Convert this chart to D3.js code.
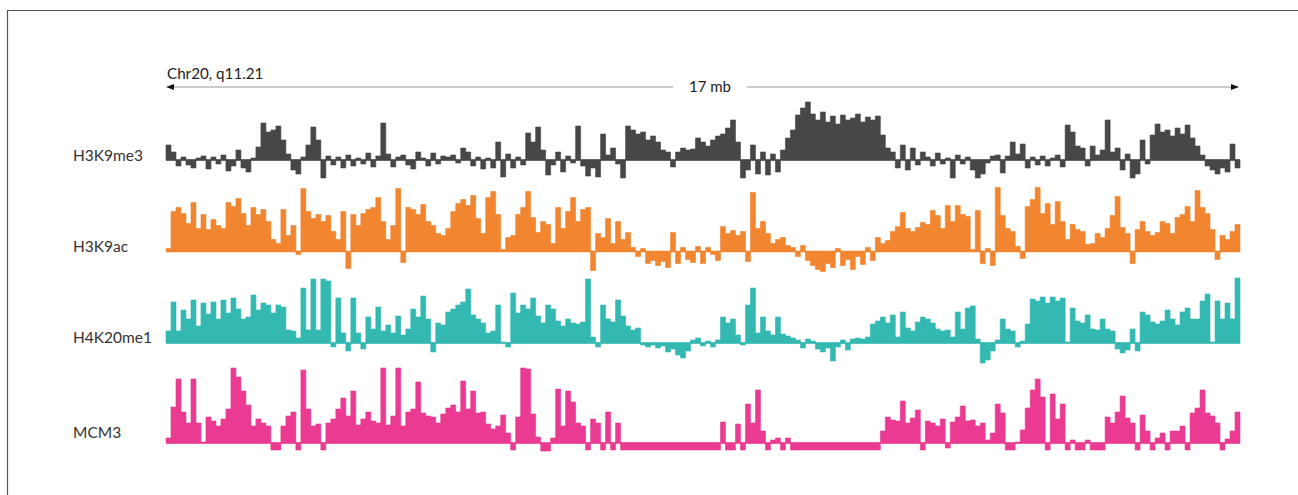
<!DOCTYPE html>
<html><head><meta charset="utf-8">
<script src="https://cdn.jsdelivr.net/npm/d3@7"></script>
<style>html,body{margin:0;padding:0;background:#fff;} svg{display:block}</style>
</head><body>
<svg id="chart" width="1298" height="495"></svg>
<script>
// ---------- DATA ----------
const trackNames = ["H3K9me3", "H3K9ac", "H4K20me1", "MCM3"];
const regionLabel = "Chr20, q11.21";
const spanLabel = "17 mb";

const h3k9me3 = [15,8,-6,3,-5,-8,2,4,-9,3,-4,5,-11,-6,10,-8,-12,2,
13,37,28,30,34,20, 6,-10,-14,3, 15,33,20,-18, 4,-5,3,-8,5,-6,2,-4,7,-7,4, 37,
6,-7,3,5,-5,-9,8,2,-6,7,-4,4,3,
5,-3,12,8, -6,3,-9,2,-8, 18,-17, 6,-8,3,-5, 27,18,33,10, -15,-5,8,-12, 4,-3, 34,
-6,-16,-8,-17, 26,5,12, -4,-18, 34,30,26, 28,20,24,18, 10,8,-7, 8,12,10,11,
22,18,14,20, 24,26,32,40,18, -18,-10,15, -14,8,-15,6,-12, 10,22, 30,45,52,58,
46,40,48,38,44,36,45,40,
42,46,38,43,40,44, 25, 12,8,-8, 15,-10,12, -5,8,3,-6,7,-4,2, -18, 5,-4,3,
-10,-18,-14, -3,4,5, -13, 4,18,6,16, -8,3,-5,4,-6,2,5,-7, 35,28,14, 12,-6,14,5,
10,40,8, 12,-10,6,-18,-14,20, -4,25,36,28,30,24,32,26,35,22,14, 5,-6,-10,-14,-8,-12,16,-8];

const h3k9ac = [3,40,44,38,28,49,23,37,22,32,
26,23,49,45,53,38,26,44,37,42,
30,12,8,42,16,26,-3,63,40,33,
37,30,36,20,12,40,-17,37,26,38,
42,44,54,30,12,26,63,-11,44,42,
37,47,30,26,18,16,23,40,48,52,
46,56,33,18,54,60,37,2,14,16,
37,44,60,34,19,30,27,8,44,23,
40,54,30,42,44,-19,18,14,33,8,
30,12,19,4,-5,3,-12,-9,-14,-10,
-16,19,-12,4,-8,-11,5,-12,4,-3,
-9,25,18,21,16,20,-10,59,23,30,
18,8,12,14,6,4,-5,6,-9,-14,
-18,-20,-12,-16,3,-14,-8,-18,-5,-13,
4,-9,14,8,11,20,25,39,23,20,
24,29,27,41,36,23,46,30,46,37,
35,2,41,-12,3,-14,64,36,23,20,
5,-7,45,52,64,38,48,27,50,30,
12,27,22,20,7,8,18,14,23,36,
55,24,18,-12,22,30,20,16,19,30,
28,18,34,37,45,30,61,44,38,22,
-8,16,12,20,27];

const h4k20me1 = [12,41,12,33,24,43,17,40,29,41,
24,43,30,45,34,24,26,48,33,40,
38,30,38,36,13,12,5,55,13,64,
13,64,62,-4,45,10,-8,45,10,-6,
26,14,36,12,18,10,27,8,14,34,
26,47,24,-9,20,18,31,34,38,41,
54,28,24,20,10,12,38,1,-4,50,
30,38,34,45,27,20,38,34,22,17,
24,20,19,21,64,6,-4,38,24,21,
43,27,17,13,15,-2,-4,-2,-5,-3,
-9,-6,-12,-15,-8,3,5,-3,2,-4,
3,26,20,24,8,-2,38,55,10,26,
12,8,26,9,7,5,3,-5,4,2,
-6,-9,-5,-18,-4,3,-7,4,5,4,
6,19,22,26,20,28,6,31,15,12,
21,26,24,20,14,12,13,6,31,14,
35,37,4,-20,-17,-8,3,24,14,12,
-4,2,19,44,42,46,40,46,42,45,
1,35,22,20,28,14,13,24,14,12,
-6,-10,-7,14,-8,31,28,21,19,22,
33,24,18,31,35,24,24,42,49,1,
42,24,40,24,65];

const mcm3 = [5,36,64,31,20,64,20,1,26,22,
17,24,34,75,66,52,38,17,24,20,
17,-7,-7,17,27,31,-7,73,34,17,
19,-7,20,24,34,45,27,52,18,24,
31,22,20,75,18,27,75,17,31,34,
61,30,27,26,20,29,35,38,31,62,
34,52,30,31,19,14,17,28,10,-7,
26,75,74,29,6,-8,-8,5,54,17,
52,41,20,17,-7,24,20,-7,31,-7,
20,-7,-7,-7,-7,-7,-7,-7,-7,-7,
-7,-7,-7,-7,-7,-7,-7,-7,-7,-7,
-7,21,-7,-7,19,-7,39,20,53,12,
-7,3,5,-7,5,-7,-7,-7,-7,-7,
-7,-7,-7,-7,-7,-7,-7,-7,-7,-7,
-7,-7,-7,12,26,23,22,42,20,25,
33,-7,22,20,17,24,-5,21,26,37,
22,23,17,20,3,10,39,30,-7,-7,
1,13,35,53,64,46,-7,49,24,39,
-7,3,-7,-7,3,-7,-7,-7,26,20,
31,47,25,20,-7,28,12,-7,5,10,
-7,12,12,17,-7,30,35,53,30,27,
20,-7,4,12,31];

const trackValues = [h3k9me3, h3k9ac, h4k20me1, mcm3];

// ---------- STYLE / LAYOUT ----------
const colors = ["#474747", "#f2852f", "#33b9b1", "#ea3a92"];
const baselines = [160, 251.5, 343, 443];
const labelBaselines = [161, 252, 343, 438];
const x0 = 166, x1 = 1240;
const font = "Lato, 'Open Sans', sans-serif";

const svg = d3.select("#chart");

// frame
svg.append("line").attr("x1", 7).attr("x2", 1298).attr("y1", 10.5).attr("y2", 10.5)
  .attr("stroke", "#555").attr("stroke-width", 1.2);
svg.append("line").attr("x1", 7.5).attr("x2", 7.5).attr("y1", 10).attr("y2", 495)
  .attr("stroke", "#555").attr("stroke-width", 1.2);

// region arrow
const arrowY = 87;
svg.append("line").attr("x1", x0 + 4).attr("x2", 673).attr("y1", arrowY).attr("y2", arrowY)
  .attr("stroke", "#9a9a9a").attr("stroke-width", 1);
svg.append("line").attr("x1", 747).attr("x2", x1 - 4).attr("y1", arrowY).attr("y2", arrowY)
  .attr("stroke", "#9a9a9a").attr("stroke-width", 1);
svg.append("path").attr("d", `M${x0},${arrowY} L${x0 + 8},${arrowY - 3} L${x0 + 8},${arrowY + 3} Z`).attr("fill", "#111");
svg.append("path").attr("d", `M${x1 - 1},${arrowY} L${x1 - 9},${arrowY - 3} L${x1 - 9},${arrowY + 3} Z`).attr("fill", "#111");

svg.append("text").attr("x", 167).attr("y", 79).text(regionLabel)
  .attr("font-family", font).attr("font-size", 15.2).attr("fill", "#222");
svg.append("text").attr("x", 710).attr("y", 92).attr("text-anchor", "middle").text(spanLabel)
  .attr("font-family", font).attr("font-size", 15).attr("fill", "#222");

// tracks
trackValues.forEach((vals, t) => {
  const n = vals.length;
  const x = d3.scaleLinear().domain([0, n]).range([x0, x1]);
  const y = d3.scaleLinear().domain([-20, 80]).range([baselines[t] + 20, baselines[t] - 80]);
  const pts = vals.map((v, i) => ({ i, v }));
  pts.push({ i: n, v: vals[n - 1] });
  const area = d3.area().curve(d3.curveStepAfter)
    .x(d => x(d.i)).y0(y(0)).y1(d => y(d.v));
  svg.append("path").datum(pts).attr("d", area).attr("fill", colors[t])
    .attr("stroke", colors[t]).attr("stroke-width", 0.6);
  svg.append("line").attr("x1", x(0)).attr("x2", x(n)).attr("y1", y(0)).attr("y2", y(0))
    .attr("stroke", colors[t]).attr("stroke-width", 1.5);
  svg.append("text").attr("x", 73).attr("y", labelBaselines[t]).text(trackNames[t])
    .attr("font-family", font).attr("font-size", 15.5).attr("fill", "#333");
});
</script>
</body></html>
